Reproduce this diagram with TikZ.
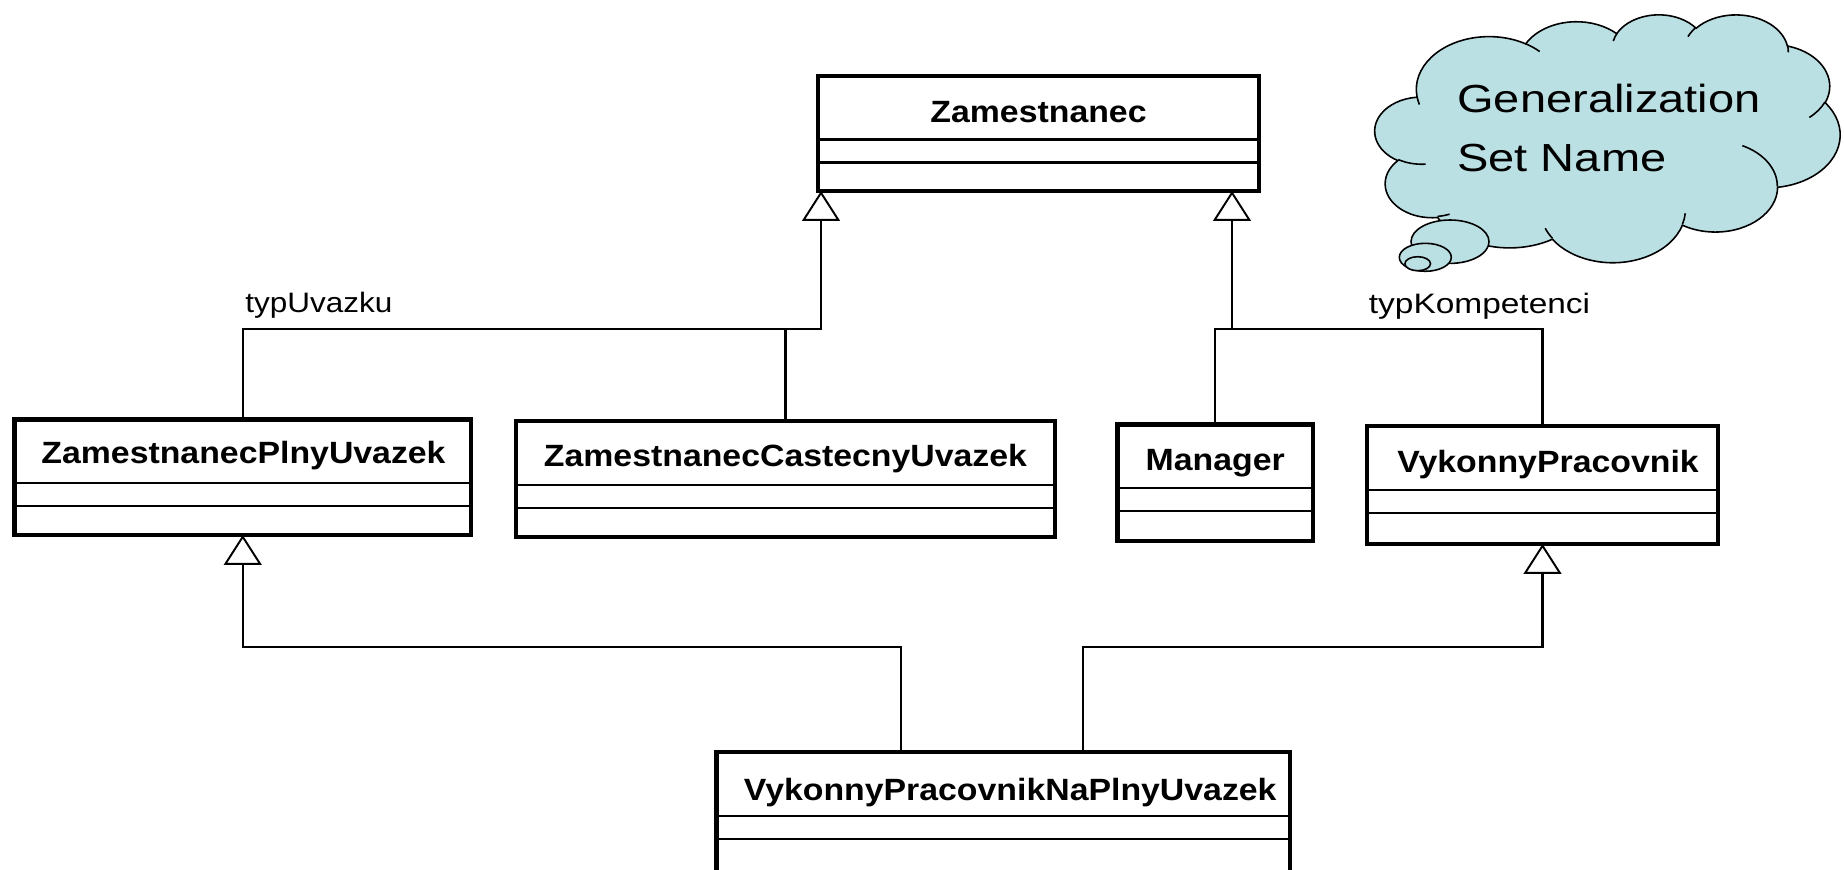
\documentclass[tikz,border=0pt]{standalone}
\usepackage{fontspec}
\setmainfont{Liberation Sans}
\newfontfamily\classfont{Liberation Sans}[FakeStretch=1.1]
\newfontfamily\labelfont{Liberation Sans}[FakeStretch=1.12]
\newfontfamily\widelabelfont{Liberation Sans}[FakeStretch=1.19]
\newfontfamily\cloudfont{Liberation Sans}[FakeStretch=1.2]
\usetikzlibrary{arrows.meta,calc}

% one pixel of the drawing grid
\newcommand\px{0.02cm}
\definecolor{cloudfill}{RGB}{187,224,227}

\tikzset{
  classbox/.style={draw, line width=2.4pt, inner sep=0pt, outer sep=0pt, fill=white},
  classname/.style={font=\classfont\bfseries\fontsize{17.5}{21}\selectfont, inner sep=0pt, anchor=base},
  sepline/.style={line width=1.15pt},
  conn/.style={line width=1.2pt, line join=miter},
  genarrow/.style={conn, -{Triangle[open, length=17pt, width=21.5pt, line width=1.1pt]}},
  setlabel/.style={font=\labelfont\fontsize{16}{19}\selectfont, inner sep=0pt, anchor=base west},
  cloudline/.style={line width=0.9pt},
  cloudtext/.style={font=\cloudfont\fontsize{22.3}{34}\selectfont, inner sep=0pt, align=left, anchor=north west},
}

% UML class: name, centre x, top y, width, height (pixel units)
\newcommand\umlclass[5]{%
  \node[classbox, anchor=north, minimum width=#4*\px, minimum height=#5*\px] (#1) at (#2,#3) {};
  \draw[sepline] ($(#1.north west)+(0,63.5)$) -- ($(#1.north east)+(0,63.5)$);
  \draw[sepline] ($(#1.north west)+(0,86.5)$) -- ($(#1.north east)+(0,86.5)$);
}

\begin{document}
\begin{tikzpicture}[x=\px, y=-\px]
\useasboundingbox (0,0) rectangle (1844,869);

% ---- classes ----
\umlclass{zam}{1038.5}{76}{441}{115}
\node[classname] (zam-name) at ($(zam.north)+(0,46)$) {Zamestnanec};

\umlclass{zpu}{242.75}{419.5}{456.5}{115.5}
\node[classname] (zpu-name) at ($(zpu.north)+(0.75,44)$) {ZamestnanecPlnyUvazek};

\umlclass{zcu}{785.5}{421}{539}{116}
\node[classname] (zcu-name) at ($(zcu.north)+(0,45.7)$) {ZamestnanecCastecnyUvazek};

\umlclass{mgr}{1215.25}{424.5}{195.5}{116.5}
\node[classname] (mgr-name) at ($(mgr.north)+(0,45.5)$) {Manager};

\umlclass{vp}{1542.5}{426}{351}{118}
\node[classname] (vp-name) at ($(vp.north)+(5.5,46.7)$) {VykonnyPracovnik};

\umlclass{vpn}{1003.25}{752}{573.5}{200}
\node[classname] (vpn-name) at ($(vpn.north)+(7,48)$) {VykonnyPracovnikNaPlnyUvazek};

% ---- generalization sets ----
\coordinate (topbus) at (0,329);
\coordinate (lowbus) at (0,646.7);
\coordinate (zamL) at ($(zam.south west)+(3,0)$);
\coordinate (zamR) at ($(zam.south east)+(-27,0)$);
\coordinate (vpnL) at ($(vpn.north)+(-102,0)$);
\coordinate (vpnR) at ($(vpn.north)+(80,0)$);

\draw[genarrow] (zpu.north) |- (zamL |- topbus) -- (zamL);
\draw[conn] (zcu.north) -- (zcu.north |- topbus);

\draw[conn] (mgr.north) |- (vp.north |- topbus) -- (vp.north);
\draw[genarrow] (zamR |- topbus) -- (zamR);

\draw[genarrow] (vpnL) |- (zpu.south |- lowbus) -- (zpu.south);
\draw[genarrow] (vpnR) |- (vp.south |- lowbus) -- (vp.south);

\node[setlabel] (lblU) at (245,312) {typUvazku};
\node[setlabel, font=\widelabelfont\fontsize{16}{19}\selectfont] (lblK) at (1368.5,313.5) {typKompetenci};

% ---- thought cloud ----
\begin{scope}[shift={(1375,14)}, x=0.0215278cm, y=-0.0114815cm]
  \filldraw[cloudline, fill=cloudfill] (39.00,143.70)
    arc[start angle=172.26, delta angle=128.12, x radius=67.53, y radius=91.90]
    arc[start angle=-152.02, delta angle=106.58, x radius=53.33, y radius=72.67]
    arc[start angle=-153.48, delta angle=116.17, x radius=43.65, y radius=59.45]
    arc[start angle=-139.70, delta angle=129.49, x radius=48.57, y radius=65.95]
    arc[start angle=-74.77, delta angle=97.98, x radius=53.33, y radius=72.73]
    arc[start angle=-37.53, delta angle=119.39, x radius=67.75, y radius=92.20]
    arc[start angle=0.46, delta angle=121.51, x radius=57.85, y radius=78.67]
    arc[start angle=16.85, delta angle=129.39, x radius=67.52, y radius=92.15]
    arc[start angle=58.98, delta angle=91.21, x radius=77.20, y radius=105.43]
    arc[start angle=83.31, delta angle=139.80, x radius=43.60, y radius=59.18]
    arc[start angle=120.35, delta angle=143.76, x radius=43.45, y radius=59.45]
    -- cycle;
  % inner creases between the puffs
  \draw[cloudline]
    (46.93,261.77) arc[start angle=85.55, delta angle=34.81, x radius=43.45, y radius=59.45]
    (69.28,348.99) arc[start angle=68.23, delta angle=15.08, x radius=43.60, y radius=59.18]
    (164.78,390.90) arc[start angle=146.24, delta angle=12.23, x radius=67.52, y radius=92.15]
    (288.27,347.51) arc[start angle=4.74, delta angle=12.11, x radius=67.52, y radius=92.15]
    (341.29,229.54) arc[start angle=-64.02, delta angle=64.48, x radius=57.85, y radius=78.67]
    (417.98,153.54) arc[start angle=23.21, delta angle=26.43, x radius=53.33, y radius=72.73]
    (383.24,54.26) arc[start angle=-10.21, delta angle=11.03, x radius=48.57, y radius=65.95]
    (290.78,39.52) arc[start angle=-156.29, delta angle=16.59, x radius=48.57, y radius=65.95]
    (221.41,47.20) arc[start angle=-167.73, delta angle=14.25, x radius=43.65, y radius=59.45]
    (140.00,51.92) arc[start angle=-59.63, delta angle=13.88, x radius=67.53, y radius=91.90]
    (41.27,157.89) arc[start angle=163.19, delta angle=9.07, x radius=67.53, y radius=91.90];
\end{scope}
% thought bubbles
\filldraw[cloudline, fill=cloudfill] (1450,241.7) ellipse [x radius=39, y radius=21.7];
\filldraw[cloudline, fill=cloudfill] (1425.3,257.3) ellipse [x radius=26, y radius=14];
\filldraw[cloudline, fill=cloudfill] (1417.7,263.7) ellipse [x radius=12.8, y radius=7];

\node[cloudtext] (cloudtext) at (1457,83.3) {Generalization\\Set Name};
\end{tikzpicture}
\end{document}
